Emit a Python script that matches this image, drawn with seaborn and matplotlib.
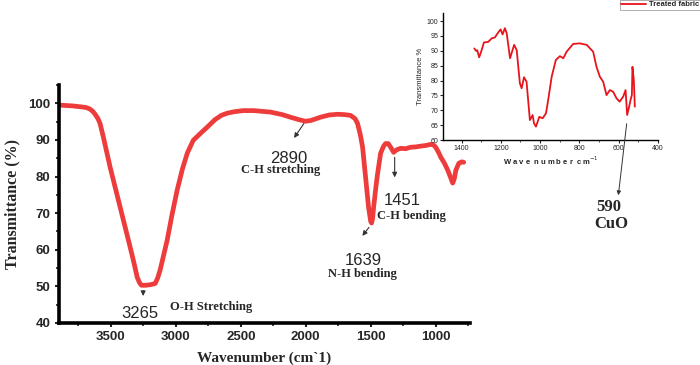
import numpy as np
import pandas as pd
import matplotlib
matplotlib.use("Agg")
import matplotlib.pyplot as plt
from matplotlib.ticker import MultipleLocator
import seaborn as sns

# ---- main FTIR spectrum ----
main_wn = [3900, 3800, 3750, 3700, 3680, 3661, 3640, 3622, 3600, 3584, 3560, 3506,
           3429, 3352, 3320, 3298, 3280, 3265, 3230, 3190, 3159, 3140, 3121, 3067,
           3030, 2990, 2950, 2912, 2866, 2810, 2758, 2700, 2650, 2604, 2550, 2480,
           2400, 2272, 2180, 2118, 2050, 2002, 1960, 1920, 1886, 1820, 1755, 1700,
           1655, 1620, 1601, 1580, 1562, 1539, 1516, 1500, 1493, 1485, 1477, 1460,
           1446, 1423, 1400, 1385, 1365, 1346, 1323, 1300, 1269, 1230, 1192, 1150,
           1114, 1070, 1037, 1015, 999, 980, 960, 930, 906, 885, 868, 855, 844, 821,
           800, 783]
main_tr = [99.5, 99.3, 99.1, 98.9, 98.7, 98.4, 97.8, 97.0, 95.8, 94.5, 91.0, 82.5,
           71.6, 60.7, 56.0, 52.5, 51.0, 50.3, 50.3, 50.5, 50.8, 52.3, 54.5, 62.6,
           69.5, 76.3, 82.0, 86.4, 89.9, 91.8, 93.5, 95.5, 96.7, 97.3, 97.7, 98.0,
           98.0, 97.6, 96.9, 96.2, 95.5, 95.1, 95.3, 95.8, 96.2, 96.8, 97.0, 96.9,
           96.7, 95.8, 94.5, 91.5, 88.0, 79.8, 71.6, 67.8, 67.3, 68.5, 71.6, 77.0,
           80.9, 86.4, 88.3, 89.0, 89.0, 88.0, 86.6, 87.3, 87.7, 87.6, 88.0, 88.1,
           88.3, 88.5, 88.8, 88.6, 88.0, 86.8, 85.3, 83.5, 81.7, 79.8, 78.2, 79.5, 81.7, 83.6,
           84.0, 83.9]

# ---- inset spectrum ----
ins_wn = [1335, 1326, 1320, 1310, 1297, 1286, 1264, 1246, 1230, 1213, 1201, 1191,
          1179, 1170, 1153, 1132, 1119, 1103, 1094, 1082, 1069, 1052, 1038, 1031,
          1021, 1004, 987, 970, 959, 941, 920, 899, 882, 865, 832, 798, 763, 730,
          713, 696, 679, 662, 645, 628, 611, 595, 577, 565, 557, 547, 540, 533, 530, 523, 518]
ins_tr = [90.8, 90.0, 90.2, 87.8, 90.3, 92.8, 93.0, 94.2, 94.5, 96.2, 97.2, 95.5,
          97.6, 95.9, 87.5, 92.0, 90.2, 79.1, 77.4, 81.1, 79.6, 66.7, 68.4, 65.6,
          64.5, 67.8, 67.3, 69.0, 73.4, 81.3, 86.9, 88.2, 87.5, 89.7, 92.3, 92.5, 92.0, 89.7,
          84.6, 81.3, 79.6, 75.1, 76.8, 76.2, 74.0, 72.9, 74.6, 76.8, 68.4, 71.2, 73.4, 75.1, 84.6, 80.1, 71.2]

main_df = pd.DataFrame({"wn": main_wn, "tr": main_tr})
ins_df = pd.DataFrame({"wn": ins_wn, "tr": ins_tr})

sns.set_theme(style="white")
plt.rcParams['font.family'] = ['Liberation Sans', 'DejaVu Sans']

RED = "#ee3b3b"
fig = plt.figure(figsize=(7.0, 3.65), dpi=100)

ax = fig.add_axes([0.0843, 0.1151, 0.5871, 0.6521])
sns.lineplot(data=main_df, x="wn", y="tr", ax=ax, color=RED, lw=3.4,
             estimator=None, sort=False)
ax.lines[0].set_solid_joinstyle("round")
ax.lines[0].set_solid_capstyle("round")
ax.set_xlim(3900, 735)
ax.set_ylim(40, 105)
ax.xaxis.set_major_locator(MultipleLocator(500))
ax.xaxis.set_minor_locator(MultipleLocator(250))
ax.yaxis.set_major_locator(MultipleLocator(10))
ax.yaxis.set_minor_locator(MultipleLocator(5))
for s in ["top", "right"]:
    ax.spines[s].set_visible(False)
for s in ["left", "bottom"]:
    ax.spines[s].set_linewidth(2.6)
    ax.spines[s].set_color("black")
ax.tick_params(which="major", direction="out", length=3, width=1.5, labelsize=9.5, pad=3,
               bottom=True, left=True)
ax.tick_params(which="minor", direction="out", length=2, width=1.2, bottom=True, left=True)
for lab in ax.get_xticklabels() + ax.get_yticklabels():
    lab.set_fontweight("bold")
ax.set_xlabel("Wavenumber (cm`1)", fontfamily="Liberation Serif", fontweight="bold",
              fontsize=11, labelpad=6)
ax.set_ylabel("Transmittance (%)", fontfamily="Liberation Serif", fontweight="bold",
              fontsize=11.5, labelpad=6)

serif = dict(fontfamily="Liberation Serif", fontweight="bold", fontsize=9, ha="center", va="center")
num = dict(fontsize=12, ha="center", va="center")
arr = dict(arrowstyle="-|>", color="#333333", lw=0.8, mutation_scale=7)

ax.annotate("", xy=(3252, 46.6), xytext=(3252, 49.6), arrowprops=arr)
ax.text(3275, 42.6, "3265", **num)
ax.text(2727, 44.5, "O-H Stretching", **serif)

ax.annotate("", xy=(2102, 89.9), xytext=(2002, 95.1), arrowprops=arr)
ax.text(2133, 85.0, "2890", **num)
ax.text(2195, 81.7, "C-H stretching", **serif)

ax.annotate("", xy=(1577, 63.2), xytext=(1500, 66.7), arrowprops=arr)
ax.text(1554, 57.2, "1639", **num)
ax.text(1562, 53.4, "N-H bending", **serif)

ax.annotate("", xy=(1315, 79.0), xytext=(1315, 86.0), arrowprops=arr)
ax.text(1253, 73.4, "1451", **num)
ax.text(1184, 69.3, "C-H bending", **serif)

# ---- inset ----
axi = fig.add_axes([0.6329, 0.6164, 0.3071, 0.3479])
sns.lineplot(data=ins_df, x="wn", y="tr", ax=axi, color="#e8141c", lw=1.3,
             estimator=None, sort=False, label="Treated fabric", legend=False)
axi.set_xlim(1494, 400)
axi.set_ylim(60, 102.7)
axi.xaxis.set_major_locator(MultipleLocator(200))
axi.xaxis.set_minor_locator(MultipleLocator(100))
axi.yaxis.set_major_locator(MultipleLocator(5))
for s in ["top", "right"]:
    axi.spines[s].set_visible(False)
for s in ["left", "bottom"]:
    axi.spines[s].set_linewidth(1.0)
    axi.spines[s].set_color("black")
axi.tick_params(which="major", direction="out", length=2, width=0.8, labelsize=5, pad=1.5,
                bottom=True, left=True)
axi.tick_params(which="minor", direction="out", length=1.2, width=0.6, bottom=True)
axi.set_xlabel("W a v e  n u m b e r  c m$^{-1}$", fontsize=5.5, fontweight="bold", labelpad=2)
axi.set_ylabel("Transmittance %", fontsize=5.5, labelpad=2)

leg = fig.legend(handles=axi.get_lines()[:1], labels=["Treated fabric"],
                 loc="upper right", bbox_to_anchor=(1.0, 1.0), frameon=True,
                 fontsize=5.5, handlelength=3.2, handletextpad=0.4,
                 borderpad=0.15, borderaxespad=0.0, fancybox=False)
leg.get_frame().set_edgecolor("#888888")
leg.get_frame().set_linewidth(0.6)
for t in leg.get_texts():
    t.set_fontweight("bold")

# ---- CuO annotation (figure coordinates) ----
axi.annotate("", xy=(0.8829, 0.4575), xycoords="figure fraction",
             xytext=(0.8957, 0.6685), textcoords="figure fraction",
             arrowprops=dict(arrowstyle="-|>", color="#333333", lw=0.7, mutation_scale=6),
             annotation_clip=False)
fig.text(0.870, 0.433, "590", fontfamily="Liberation Serif", fontweight="bold",
         fontsize=12, ha="center", va="center")
fig.text(0.873, 0.386, "CuO", fontfamily="Liberation Serif", fontweight="bold",
         fontsize=12, ha="center", va="center")

fig.savefig("out.png", dpi=100)
